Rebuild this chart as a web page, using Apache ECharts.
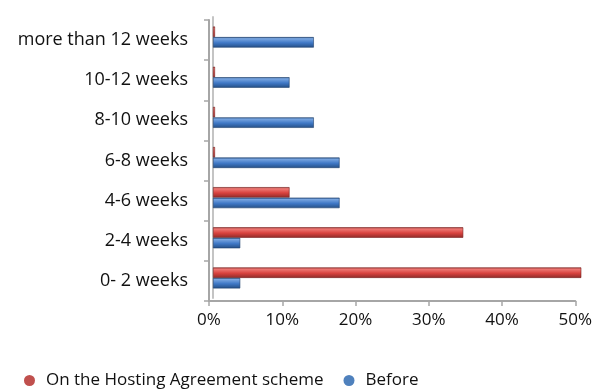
<!DOCTYPE html>
<html>
<head>
<meta charset="utf-8">
<script src="https://cdn.jsdelivr.net/npm/echarts@6/dist/echarts.min.js"></script>
<style>
  html, body { margin: 0; padding: 0; background: #fff; }
  #chart { width: 595px; height: 389px; }
</style>
</head>
<body>
<div id="chart"></div>
<script>
// Waiting time categories, listed from the bottom row to the top row
const categories = ['0- 2 weeks', '2-4 weeks', '4-6 weeks', '6-8 weeks', '8-10 weeks', '10-12 weeks', 'more than 12 weeks'];
// Share of cases (%) per waiting time
const hostingScheme = [50.5, 34.0, 10.4, 0, 0, 0, 0];
const before = [3.7, 3.7, 17.2, 17.2, 13.7, 10.4, 13.7];
const seriesNames = ['On the Hosting Agreement scheme', 'Before'];
const seriesColors = ['#c0504d', '#4f81bd'];
const tickValues = [0, 10, 20, 30, 40, 50];

const FONT = '"Open Sans", "Liberation Sans", sans-serif';

function cylinder(light, mid, dark) {
  return {
    type: 'linear', x: 0, y: 0, x2: 0, y2: 1,
    colorStops: [
      { offset: 0, color: dark },
      { offset: 0.15, color: light },
      { offset: 0.55, color: mid },
      { offset: 1, color: dark }
    ]
  };
}

const chart = echarts.init(document.getElementById('chart'), null, { renderer: 'canvas' });

chart.setOption({
  animation: false,
  backgroundColor: '#ffffff',
  textStyle: { fontFamily: FONT },
  grid: [
    // front frame carrying the visible axes
    { left: 209, right: 18, top: 20, bottom: 88 },
    // bar plane, set slightly back and up for depth
    { left: 213, right: 14, top: 17, bottom: 91 }
  ],
  xAxis: [
    {
      gridIndex: 0, type: 'value', min: tickValues[0], max: tickValues[tickValues.length - 1], interval: 10,
      axisLine: { show: true, lineStyle: { color: '#a6a6a6', width: 2 } },
      axisTick: { show: true, length: 5, lineStyle: { color: '#a6a6a6', width: 1.5 } },
      splitLine: { show: false },
      axisLabel: { color: '#111', fontSize: 17, margin: 11, fontFamily: FONT, formatter: v => v + '%' }
    },
    {
      gridIndex: 1, type: 'value', min: tickValues[0], max: tickValues[tickValues.length - 1], interval: 10,
      show: false
    }
  ],
  yAxis: [
    {
      gridIndex: 0, type: 'category', data: categories,
      axisLine: { show: true, lineStyle: { color: '#a6a6a6', width: 2 } },
      axisTick: { show: true, length: 5, lineStyle: { color: '#a6a6a6', width: 1.5 } },
      axisLabel: { color: '#111', fontSize: 18, margin: 21, fontFamily: FONT }
    },
    {
      gridIndex: 1, type: 'category', data: categories,
      axisLine: { show: true, lineStyle: { color: '#c4c4c4', width: 2 } },
      axisTick: { show: false },
      axisLabel: { show: false }
    }
  ],
  legend: {
    left: 19, top: 367,
    itemWidth: 11, itemHeight: 11, itemGap: 20,
    icon: 'circle',
    data: seriesNames.map((n, i) => ({ name: n, itemStyle: { color: seriesColors[i], borderWidth: 0 } })),
    textStyle: { color: '#111', fontSize: 17, fontFamily: FONT, padding: [0, 0, 0, 6] }
  },
  series: [
    {
      name: seriesNames[0], type: 'bar', xAxisIndex: 1, yAxisIndex: 1,
      data: hostingScheme, barWidth: 10.5, barGap: '0%', barMinHeight: 2,
      color: seriesColors[0],
      itemStyle: { color: cylinder('#ee7a76', '#d9423e', '#8e2b29'), borderColor: '#7a2220', borderWidth: 0.6 }
    },
    {
      name: seriesNames[1], type: 'bar', xAxisIndex: 1, yAxisIndex: 1,
      data: before, barWidth: 10.5, barGap: '0%',
      color: seriesColors[1],
      itemStyle: { color: cylinder('#7aa6e0', '#3f78c6', '#254f85'), borderColor: '#1f3f6b', borderWidth: 0.6 }
    }
  ]
});
</script>
</body>
</html>
